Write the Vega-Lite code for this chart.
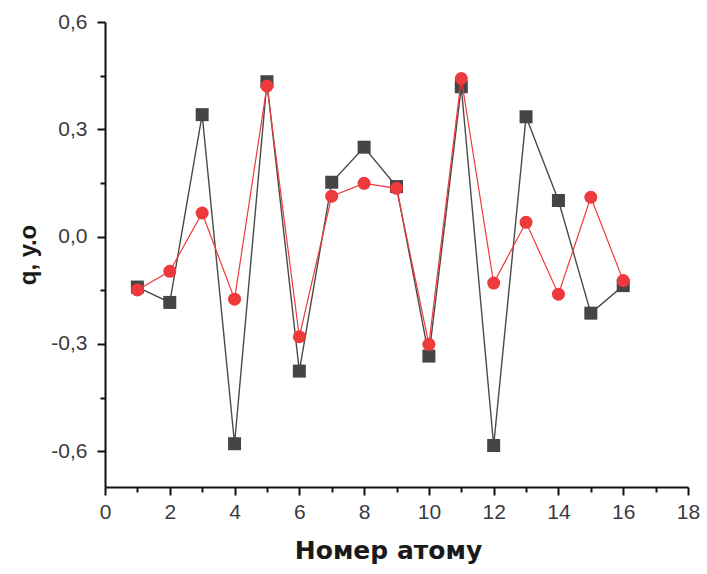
{
  "$schema": "https://vega.github.io/schema/vega-lite/v6.json",
  "width": 583,
  "height": 465,
  "autosize": {"type": "none"},
  "padding": {"left": 105, "top": 22, "right": 19, "bottom": 87},
  "background": "white",
  "config": {
    "view": {"stroke": null},
    "font": "Liberation Sans",
    "locale": {"number": {"decimal": ",", "thousands": " ", "grouping": [3], "currency": ["", ""], "minus": "-"}}
  },
  "data": {
    "values": [
      {"atom": 1, "series": "A", "q": -0.141},
      {"atom": 2, "series": "A", "q": -0.184},
      {"atom": 3, "series": "A", "q": 0.341},
      {"atom": 4, "series": "A", "q": -0.579},
      {"atom": 5, "series": "A", "q": 0.433},
      {"atom": 6, "series": "A", "q": -0.376},
      {"atom": 7, "series": "A", "q": 0.152},
      {"atom": 8, "series": "A", "q": 0.25},
      {"atom": 9, "series": "A", "q": 0.14},
      {"atom": 10, "series": "A", "q": -0.334},
      {"atom": 11, "series": "A", "q": 0.419},
      {"atom": 12, "series": "A", "q": -0.584},
      {"atom": 13, "series": "A", "q": 0.335},
      {"atom": 14, "series": "A", "q": 0.101},
      {"atom": 15, "series": "A", "q": -0.214},
      {"atom": 16, "series": "A", "q": -0.137},
      {"atom": 1, "series": "B", "q": -0.149},
      {"atom": 2, "series": "B", "q": -0.097},
      {"atom": 3, "series": "B", "q": 0.066},
      {"atom": 4, "series": "B", "q": -0.175},
      {"atom": 5, "series": "B", "q": 0.421},
      {"atom": 6, "series": "B", "q": -0.28},
      {"atom": 7, "series": "B", "q": 0.113},
      {"atom": 8, "series": "B", "q": 0.149},
      {"atom": 9, "series": "B", "q": 0.135},
      {"atom": 10, "series": "B", "q": -0.301},
      {"atom": 11, "series": "B", "q": 0.442},
      {"atom": 12, "series": "B", "q": -0.13},
      {"atom": 13, "series": "B", "q": 0.04},
      {"atom": 14, "series": "B", "q": -0.161},
      {"atom": 15, "series": "B", "q": 0.11},
      {"atom": 16, "series": "B", "q": -0.123}
    ]
  },
  "encoding": {
    "x": {
      "field": "atom",
      "type": "quantitative",
      "scale": {"domain": [0, 18], "nice": false, "zero": false},
      "axis": {
        "title": "Номер атому",
        "values": [0, 1, 2, 3, 4, 5, 6, 7, 8, 9, 10, 11, 12, 13, 14, 15, 16, 17, 18],
        "labelExpr": "datum.value % 2 == 0 ? datum.label : ''",
        "grid": false,
        "domainColor": "#111111",
        "domainWidth": 2,
        "tickColor": "#111111",
        "tickWidth": 2,
        "tickSize": {"condition": {"test": "datum.value % 2 == 0", "value": 8}, "value": 5},
        "labelFontSize": 21,
        "labelColor": "#3a3a44",
        "labelPadding": 6,
        "labelFlush": false,
        "titleFont": "DejaVu Sans",
        "titleFontSize": 25,
        "titleFontWeight": "bold",
        "titleColor": "#1a1a1a",
        "titleX": 283,
        "titleY": 71,
        "titleBaseline": "alphabetic"
      }
    },
    "y": {
      "field": "q",
      "type": "quantitative",
      "scale": {"domain": [-0.7, 0.6], "nice": false, "zero": false},
      "axis": {
        "title": "q, у.о",
        "values": [-0.6, -0.45, -0.3, -0.15, 0, 0.15, 0.3, 0.45, 0.6],
        "format": ".1f",
        "labelExpr": "round(datum.value / 0.15) % 2 == 0 ? datum.label : ''",
        "grid": false,
        "domainColor": "#111111",
        "domainWidth": 2,
        "tickColor": "#111111",
        "tickWidth": 2,
        "tickSize": {"condition": {"test": "round(datum.value / 0.15) % 2 == 0", "value": 8}, "value": 5},
        "labelFontSize": 21,
        "labelColor": "#3a3a44",
        "labelPadding": 10,
        "labelFlush": false,
        "titleFontSize": 24,
        "titleFontWeight": "bold",
        "titleColor": "#1a1a1a",
        "titlePadding": 10
      }
    }
  },
  "layer": [
    {
      "transform": [{"filter": "datum.series == 'A'"}],
      "layer": [
        {"mark": {"type": "line", "color": "#4a4a4a", "strokeWidth": 1.4}},
        {"mark": {"type": "point", "shape": "square", "filled": true, "size": 169, "color": "#454545", "opacity": 1}}
      ]
    },
    {
      "transform": [{"filter": "datum.series == 'B'"}],
      "layer": [
        {"mark": {"type": "line", "color": "#ee3a3c", "strokeWidth": 1.2}},
        {"mark": {"type": "point", "shape": "circle", "filled": true, "size": 169, "color": "#ee3a3c", "opacity": 1}}
      ]
    }
  ]
}
